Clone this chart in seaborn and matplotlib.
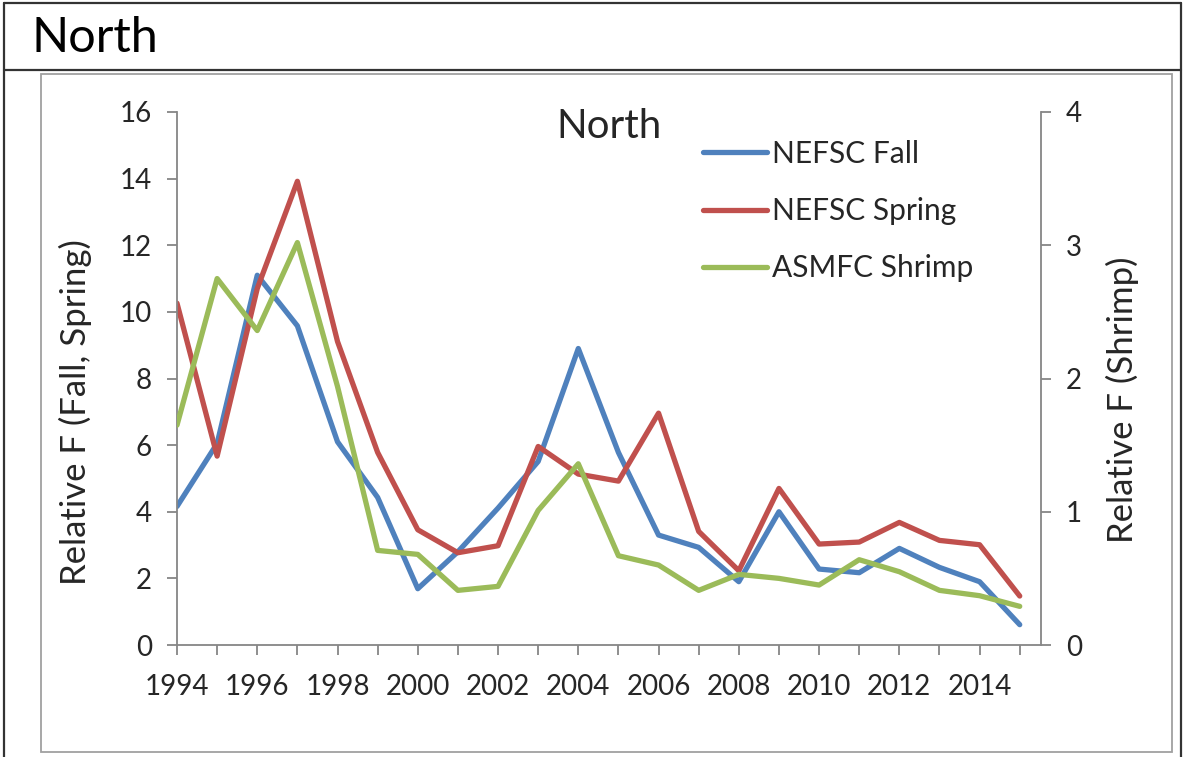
import numpy as np
import pandas as pd
import matplotlib.pyplot as plt
import seaborn as sns
from matplotlib.lines import Line2D
from matplotlib.patches import Rectangle

# -----------------------------
# data
# -----------------------------
years = list(range(1994, 2016))
nefsc_fall = [4.16, 6.05, 11.1, 9.58, 6.1, 4.43, 1.69, 2.8, 4.11, 5.51, 8.9,
              5.78, 3.3, 2.93, 1.9, 4.0, 2.28, 2.17, 2.9, 2.33, 1.9, 0.61]
nefsc_spring = [10.26, 5.67, 10.7, 13.92, 9.11, 5.78, 3.46, 2.77, 2.98, 5.96, 5.13,
                4.92, 6.96, 3.41, 2.23, 4.7, 3.03, 3.09, 3.68, 3.14, 3.01, 1.47]
asmfc_shrimp = [1.65, 2.75, 2.36, 3.02, 1.94, 0.71, 0.68, 0.41, 0.44, 1.01, 1.36,
                0.67, 0.6, 0.41, 0.53, 0.5, 0.45, 0.64, 0.55, 0.41, 0.37, 0.29]
series_names = ['NEFSC Fall', 'NEFSC Spring', 'ASMFC Shrimp']
left_ticks = [0, 2, 4, 6, 8, 10, 12, 14, 16]
right_ticks = [0, 1, 2, 3, 4]
year_labels = [str(y) if y % 2 == 0 else '' for y in years]

df = pd.DataFrame({'Year': years, 'Fall': nefsc_fall,
                   'Spring': nefsc_spring, 'Shrimp': asmfc_shrimp})

sns.set_style('white')
plt.rcParams['font.family'] = ['Lato', 'DejaVu Sans']

blue, red, green = '#4F81BD', '#C0504D', '#9BBB59'
axis_grey = '#868686'
lw = 3.8

fig = plt.figure(figsize=(11.84, 7.57), dpi=100)
W, H = 1184, 757

def fx(px):
    return px / W

def fy(py):
    return 1 - py / H

# outer box + header
for (x0, y0, x1, y1) in [(4, 3, 1181, 3), (4, 3, 4, 757), (1181, 3, 1181, 757),
                         (4, 70, 1181, 70)]:
    fig.add_artist(Line2D([fx(x0), fx(x1)], [fy(y0), fy(y1)], color='#333333', lw=1.6))
fig.text(fx(32), fy(38), 'North', fontsize=35, va='center', ha='left', color='black')

# chart frame
fig.add_artist(Rectangle((fx(41), fy(752)), fx(1172) - fx(41), fy(74) - fy(752),
                         fill=False, edgecolor='#A0A0A0', lw=1.3))

ax = fig.add_axes([fx(177), fy(645), fx(1041) - fx(177), fy(112) - fy(645)])
ax2 = ax.twinx()

sns.lineplot(data=df, x='Year', y='Fall', ax=ax, color=blue, lw=lw)
sns.lineplot(data=df, x='Year', y='Spring', ax=ax, color=red, lw=lw)
sns.lineplot(data=df, x='Year', y='Shrimp', ax=ax2, color=green, lw=lw)

ax.set_xlim(1994, 2015.53)
ax.set_ylim(0, 16)
ax2.set_ylim(0, 4)
ax.set_xticks(years)
ax.set_xticklabels(year_labels)
ax.set_yticks(left_ticks)
ax2.set_yticks(right_ticks)

for a in (ax, ax2):
    a.set_facecolor('none')
    a.grid(False)
    for s in a.spines.values():
        s.set_visible(False)
ax.spines['left'].set_visible(True)
ax.spines['bottom'].set_visible(True)
ax2.spines['right'].set_visible(True)
for s in (ax.spines['left'], ax.spines['bottom'], ax2.spines['right']):
    s.set_color(axis_grey)
    s.set_linewidth(1.3)

tick_font = 20
ax.tick_params(axis='x', direction='out', length=7, width=1.3, color=axis_grey,
               labelsize=tick_font, pad=14, bottom=True)
ax.tick_params(axis='y', direction='out', length=7, width=1.3, color=axis_grey,
               labelsize=tick_font, pad=11, left=True)
ax2.tick_params(axis='y', direction='out', length=7, width=1.3, color=axis_grey,
                labelsize=tick_font, pad=11, right=True)

# axis titles sit a little below the plot centre in the original
ax.set_xlabel('')
ax.set_ylabel('')
ax2.set_ylabel('')
fig.text(fx(75), fy(412), 'Relative F (Fall, Spring)', fontsize=25, rotation=90,
         ha='center', va='center')
fig.text(fx(1122), fy(400), 'Relative F (Shrimp)', fontsize=25, rotation=90,
         ha='center', va='center')

ax.text(0.5, 1.008, 'North', transform=ax.transAxes, fontsize=29, ha='center', va='top')

handles = [Line2D([], [], color=c, lw=lw) for c in (blue, red, green)]
ax2.legend(handles, series_names, loc='upper left', bbox_to_anchor=(0.609, 0.948),
           frameon=False, fontsize=21.5, handlelength=2.15, handletextpad=0.17,
           labelspacing=0.98, borderaxespad=0, borderpad=0)

fig.savefig('out.png', dpi=100)
